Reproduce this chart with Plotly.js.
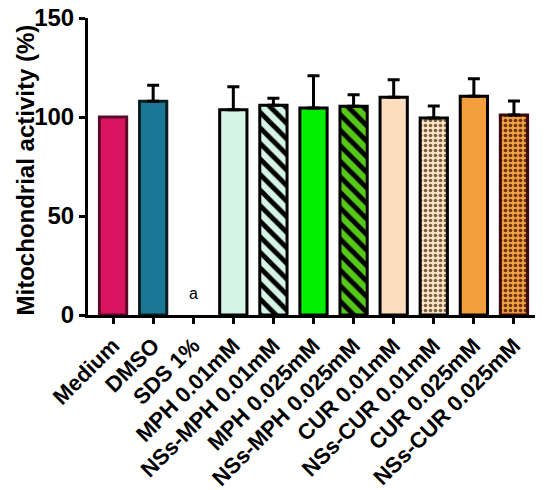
<!DOCTYPE html>
<html>
<head>
<meta charset="utf-8">
<script src="https://cdn.plot.ly/plotly-3.0.1.min.js"></script>
<style>html,body{margin:0;padding:0;background:#fff}#chart{width:550px;height:490px}</style>
</head>
<body>
<div id="chart"></div>
<script>
const categories = ["Medium", "DMSO", "SDS 1%", "MPH 0.01mM", "NSs-MPH 0.01mM", "MPH 0.025mM", "NSs-MPH 0.025mM", "CUR 0.01mM", "NSs-CUR 0.01mM", "CUR 0.025mM", "NSs-CUR 0.025mM"];
const activity = [100, 108, 0, 103.7, 105.9, 104.5, 105.4, 110, 99.5, 110.5, 101];
const errUpper = [0, 8, 0, 11.6, 3.6, 16.3, 5.8, 8.8, 6, 8.8, 7.1];
const fillColors = ["#D8135F", "#1A7896", "#FFFFFF", "#D6F4E6", "#D6F4E6", "#00EE00", "#55C818", "#FCDDBE", "#FBE3C6", "#F59E3C", "#EFA040"];
const lineColors = ["#5A0A28", "#0A1E22", "#000000", "#000000", "#000000", "#000000", "#000000", "#000000", "#000000", "#000000", "#3A0A10"];
const patternShapes = ["", "", "", "", "\\", "", "\\", "", ".", "", "."];
const patternFg = ["#000000", "#000000", "#000000", "#000000", "#000000", "#000000", "#000000", "#000000", "#7A6040", "#000000", "#6A3010"];
const yTitle = "Mitochondrial activity (%)";
const sdsLabel = "a";

const font = "Liberation Sans, Arial, sans-serif";

const traces = categories.map((cat, i) => {
  const marker = {
    color: fillColors[i],
    line: { color: lineColors[i], width: activity[i] > 0 ? 3 : 0 }
  };
  if (patternShapes[i]) {
    const dots = patternShapes[i] === ".";
    marker.pattern = {
      shape: patternShapes[i], fillmode: "replace",
      bgcolor: fillColors[i], fgcolor: patternFg[i], fgopacity: 1,
      size: dots ? 5 : 11, solidity: dots ? 0.4 : 0.45
    };
  }
  return {
    type: "bar",
    x: [cat],
    y: [activity[i]],
    width: 0.68,
    marker: marker,
    error_y: {
      type: "data", symmetric: false, array: [errUpper[i]], arrayminus: [0],
      color: "#000", thickness: 3, width: 6, visible: errUpper[i] > 0
    },
    hoverinfo: "none"
  };
});

const layout = {
  width: 550, height: 490,
  margin: { l: 88, r: 15, t: 18, b: 175 },
  paper_bgcolor: "#fff", plot_bgcolor: "#fff",
  showlegend: false,
  barmode: "overlay",
  font: { family: font, color: "#000" },
  xaxis: {
    type: "category",
    categoryorder: "array", categoryarray: categories,
    range: [-0.625, 10.525],
    showline: true, linewidth: 3, linecolor: "#000",
    ticks: "outside", ticklen: 6, tickwidth: 3, tickcolor: "#000",
    tickangle: -45,
    tickfont: { family: font, size: 22, weight: "bold", color: "#000" },
    showgrid: false, zeroline: false, fixedrange: true
  },
  yaxis: {
    range: [0, 150],
    tickvals: [0, 50, 100, 150],
    showline: true, linewidth: 3, linecolor: "#000",
    ticks: "outside", ticklen: 6, tickwidth: 3, tickcolor: "#000",
    tickfont: { family: font, size: 24, weight: "bold", color: "#000" },
    showgrid: false, zeroline: false, fixedrange: true
  },
  annotations: [{
    x: "SDS 1%", y: 11, xref: "x", yref: "y",
    text: sdsLabel, showarrow: false,
    font: { family: font, size: 16, color: "#000" }
  }, {
    xref: "paper", yref: "paper", x: -0.141, y: 0.49,
    xanchor: "center", yanchor: "middle", textangle: -90,
    text: yTitle, showarrow: false,
    font: { family: font, size: 24, weight: "bold", color: "#000" }
  }]
};

Plotly.newPlot("chart", traces, layout, { displayModeBar: false, staticPlot: true });
</script>
</body>
</html>
